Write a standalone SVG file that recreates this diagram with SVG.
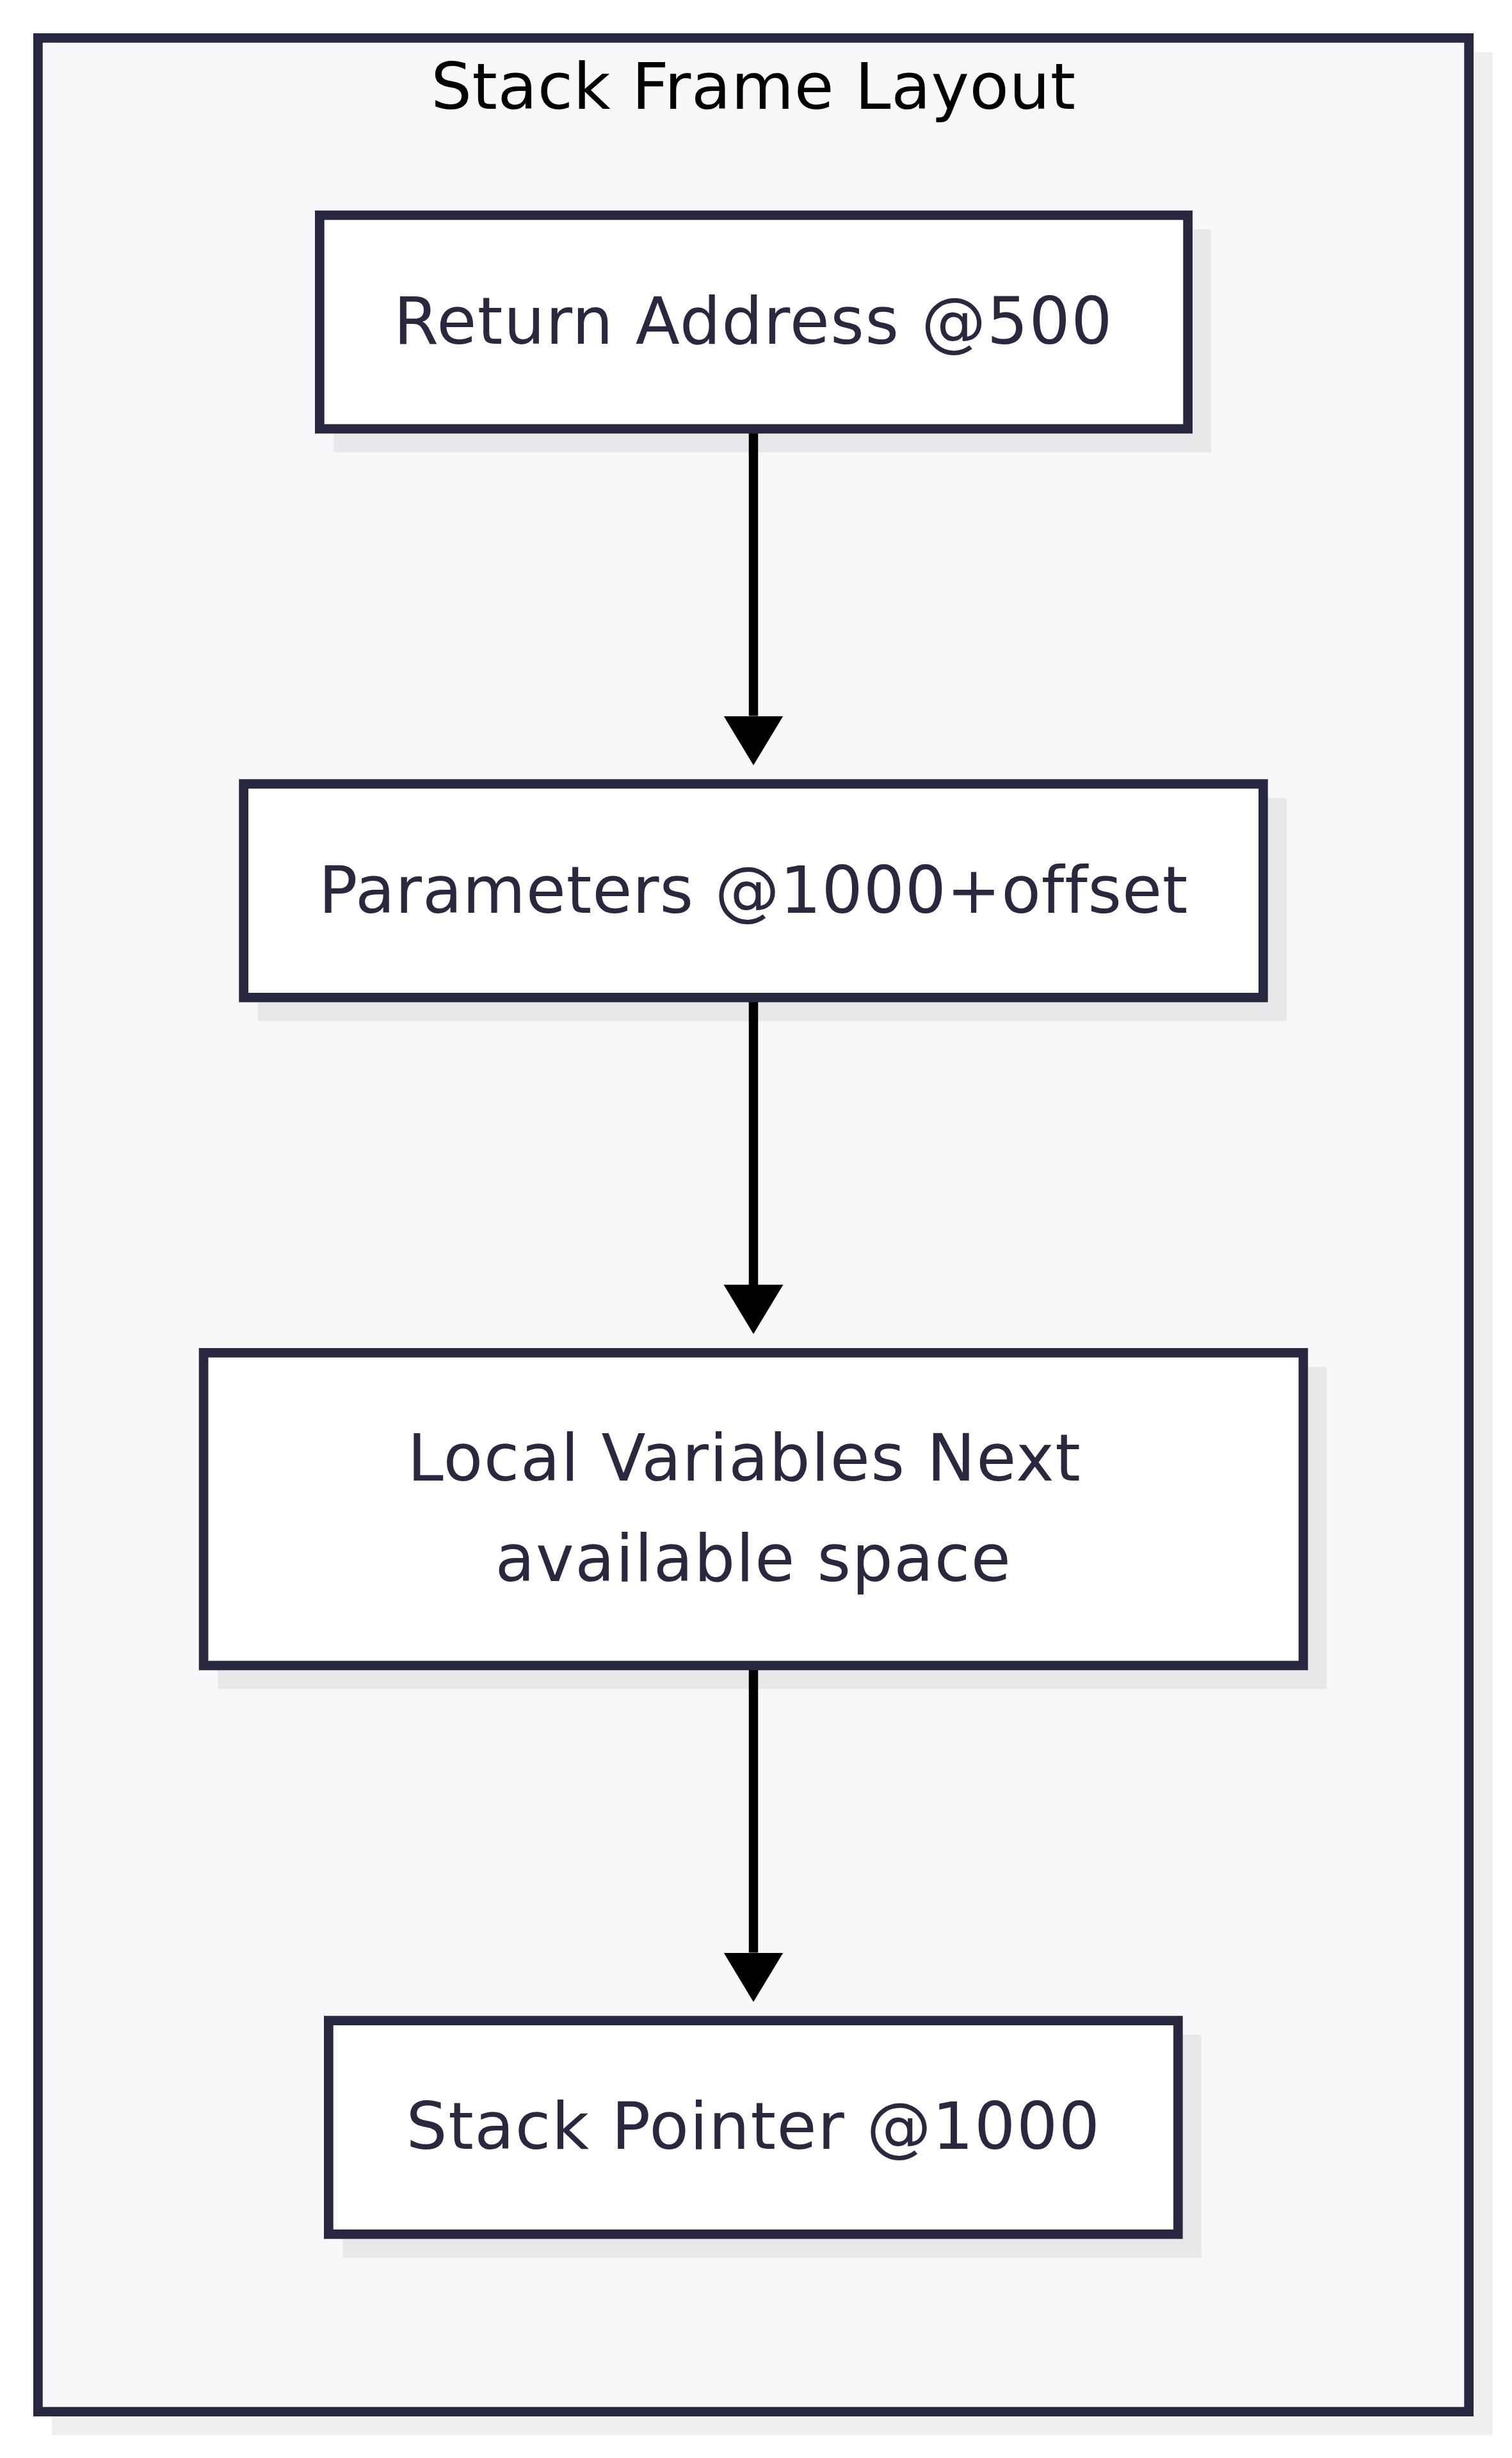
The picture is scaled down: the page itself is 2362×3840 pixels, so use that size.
<svg xmlns="http://www.w3.org/2000/svg" width="2362" height="3840" viewBox="0 0 2362 3840">
<style>
.shadow{fill:#000;fill-opacity:0.063;}
.frame{fill:#f8f8fa;stroke:#27273f;stroke-width:14.7;}
.node{fill:#ffffff;stroke:#27273f;stroke-width:14.7;}
.label{font-family:"DejaVu Sans","Liberation Sans",sans-serif;font-size:101px;fill:#29283f;text-anchor:middle;letter-spacing:1.5px;}
.tight{letter-spacing:0.8px;}
.title{font-family:"DejaVu Sans","Liberation Sans",sans-serif;font-size:100.5px;fill:#000;text-anchor:middle;letter-spacing:0.6px;}
.edge{stroke:#000;stroke-width:14.5;fill:none;}
</style>
<defs>
<marker id="arrow" markerUnits="userSpaceOnUse" markerWidth="78" markerHeight="94" refX="0" refY="46.5" orient="auto" viewBox="0 0 78 94">
<path d="M0,0 L77,46.5 L0,93 z" fill="#000"/>
</marker>
</defs>
<rect width="2362" height="3840" fill="#ffffff"/>
<g id="frame">
<rect class="shadow" x="81.4" y="81.4" width="2250" height="3723"/>
<rect class="frame" x="59.35" y="59.35" width="2235.3" height="3708.3"/>
<text class="title" x="1177" y="170">Stack Frame Layout</text>
</g>
<g id="edges">
<line class="edge" x1="1177" y1="677" x2="1177" y2="1118.5" marker-end="url(#arrow)"/>
<line class="edge" x1="1177" y1="1565" x2="1177" y2="2007" marker-end="url(#arrow)"/>
<line class="edge" x1="1177" y1="2609" x2="1177" y2="3050.5" marker-end="url(#arrow)"/>
</g>
<g id="node-return-address">
<rect class="shadow" x="521" y="358.3" width="1371" height="348.4"/>
<rect class="node" x="499.35" y="336.25" width="1356.3" height="333.7"/>
<text class="label" x="1177" y="537">Return Address @500</text>
</g>
<g id="node-parameters">
<rect class="shadow" x="402.7" y="1246.7" width="1607.4" height="348.4"/>
<rect class="node" x="380.65" y="1224.65" width="1592.7" height="333.7"/>
<text class="label tight" x="1177" y="1425.7">Parameters @1000+offset</text>
</g>
<g id="node-local-variables">
<rect class="shadow" x="340.1" y="2135.4" width="1732.6" height="503.3"/>
<rect class="node" x="318.05" y="2113.35" width="1717.9" height="488.6"/>
<text class="label" x="1163" y="2313">Local Variables Next</text>
<text class="label" x="1177" y="2470">available space</text>
</g>
<g id="node-stack-pointer">
<rect class="shadow" x="535.4" y="3178.7" width="1341.7" height="348.4"/>
<rect class="node" x="513.35" y="3156.65" width="1327" height="333.7"/>
<text class="label" x="1177" y="3357">Stack Pointer @1000</text>
</g>
</svg>
